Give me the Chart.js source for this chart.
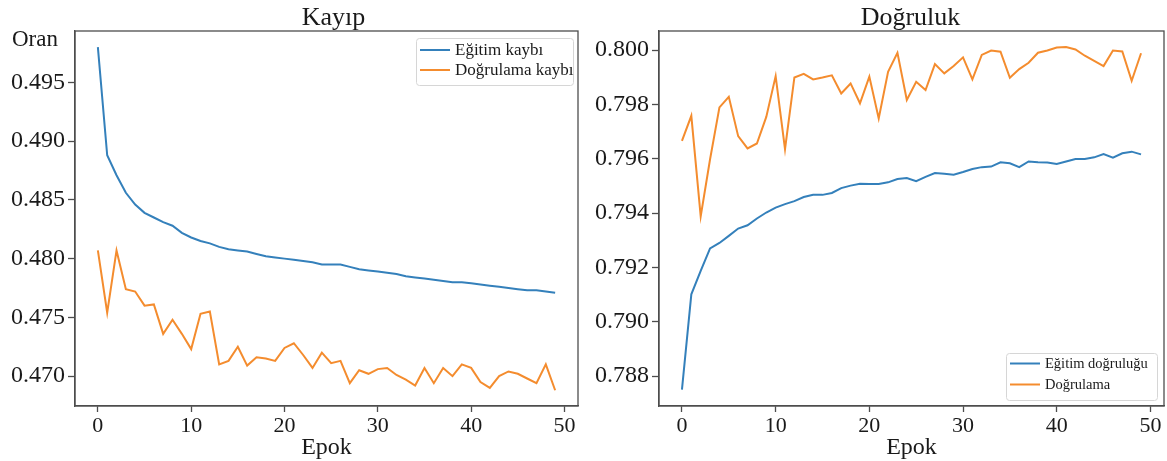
<!DOCTYPE html>
<html lang="tr">
<head>
<meta charset="utf-8">
<title>Kayıp ve Doğruluk</title>
<script src="https://cdn.jsdelivr.net/npm/chart.js@4.4.1/dist/chart.umd.min.js"></script>
<style>
    html, body { margin: 0; padding: 0; background: #ffffff; }
    #sol { position: absolute; left: 0; top: 0; width: 580px; height: 461px; }
    #sag { position: absolute; left: 580px; top: 0; width: 587px; height: 461px; }
</style>
</head>
<body>
<div id="sol"><canvas id="chartKayip" width="580" height="461"></canvas></div>
<div id="sag"><canvas id="chartDogruluk" width="587" height="461"></canvas></div>

<script>
// ===== VERİLER =====
const epoklar = [0, 1, 2, 3, 4, 5, 6, 7, 8, 9, 10, 11, 12, 13, 14, 15, 16, 17, 18, 19,
    20, 21, 22, 23, 24, 25, 26, 27, 28, 29, 30, 31, 32, 33, 34, 35, 36, 37, 38, 39,
    40, 41, 42, 43, 44, 45, 46, 47, 48, 49];

const egitimKaybi = [0.4980, 0.4888, 0.4871, 0.4856, 0.4846, 0.4839, 0.4835, 0.4831, 0.4828, 0.4822,
    0.4818, 0.4815, 0.4813, 0.4810, 0.4808, 0.4807, 0.4806, 0.4804, 0.4802, 0.4801,
    0.4800, 0.4799, 0.4798, 0.4797, 0.4795, 0.4795, 0.4795, 0.4793, 0.4791, 0.4790,
    0.4789, 0.4788, 0.4787, 0.4785, 0.4784, 0.4783, 0.4782, 0.4781, 0.4780, 0.4780,
    0.4779, 0.4778, 0.4777, 0.4776, 0.4775, 0.4774, 0.4773, 0.4773, 0.4772, 0.4771];

const dogrulamaKaybi = [0.4807, 0.4754, 0.4807, 0.4774, 0.4772, 0.4760, 0.4761, 0.4736, 0.4748, 0.4736,
    0.4723, 0.4753, 0.4755, 0.4710, 0.4713, 0.4725, 0.4709, 0.4716, 0.4715, 0.4713,
    0.4724, 0.4728, 0.4718, 0.4707, 0.4720, 0.4711, 0.4713, 0.4694, 0.4705, 0.4702,
    0.4706, 0.4707, 0.4701, 0.4697, 0.4692, 0.4707, 0.4694, 0.4707, 0.4700, 0.4710,
    0.4707, 0.4695, 0.4690, 0.4700, 0.4704, 0.4702, 0.4698, 0.4694, 0.4710, 0.4688];

const egitimDogrulugu = [0.78750, 0.79101, 0.79187, 0.79270, 0.79290, 0.79316, 0.79343, 0.79355, 0.79380, 0.79402,
    0.79420, 0.79433, 0.79444, 0.79459, 0.79467, 0.79467, 0.79474, 0.79492, 0.79501, 0.79508,
    0.79507, 0.79507, 0.79513, 0.79525, 0.79529, 0.79517, 0.79533, 0.79547, 0.79545, 0.79541,
    0.79551, 0.79562, 0.79569, 0.79571, 0.79587, 0.79583, 0.79569, 0.79590, 0.79587, 0.79586,
    0.79581, 0.79590, 0.79599, 0.79599, 0.79605, 0.79617, 0.79604, 0.79620, 0.79626, 0.79616];

const dogrulamaDogrulugu = [0.79666, 0.79758, 0.79388, 0.79598, 0.79789, 0.79828, 0.79683, 0.79638, 0.79656, 0.79754,
    0.79904, 0.79635, 0.79899, 0.79912, 0.79892, 0.79899, 0.79907, 0.79840, 0.79877, 0.79804,
    0.79902, 0.79748, 0.79920, 0.79990, 0.79816, 0.79883, 0.79853, 0.79948, 0.79914, 0.79941,
    0.79973, 0.79892, 0.79982, 0.79998, 0.79994, 0.79898, 0.79930, 0.79953, 0.79990, 0.79998,
    0.80009, 0.80011, 0.80002, 0.79979, 0.79960, 0.79941, 0.79998, 0.79995, 0.79887, 0.79988];

const xTikleri = [0, 10, 20, 30, 40, 50];
const kayipTikleri = [0.470, 0.475, 0.480, 0.485, 0.490, 0.495];
const dogrulukTikleri = [0.788, 0.790, 0.792, 0.794, 0.796, 0.798, 0.800];

const MAVI = '#3480bb';
const TURUNCU = '#f48c2e';
const YAZI_RENGI = '#1a1a1a';
const CERCEVE_RENGI = '#4d4d4d';
const FONT = "'Liberation Serif', 'DejaVu Serif', serif";

// Nokta listesi oluştur
function noktalar(degerler) {
    return epoklar.map(function(e, i) {
        return { x: e, y: degerler[i] };
    });
}

// Çerçeve, başlık, "Oran" ve grafik içi lejant
const panelEklentisi = {
    id: 'panel',
    afterDraw: function(chart, args, opts) {
        const ctx = chart.ctx;
        const a = chart.chartArea;
        ctx.save();

        // Dört kenarlı çerçeve
        ctx.strokeStyle = CERCEVE_RENGI;
        ctx.lineWidth = 1.3;
        ctx.strokeRect(a.left, a.top, a.right - a.left, a.bottom - a.top);

        // Başlık
        ctx.fillStyle = YAZI_RENGI;
        ctx.font = '26px ' + FONT;
        ctx.textAlign = 'center';
        ctx.textBaseline = 'alphabetic';
        ctx.fillText(opts.baslik, (a.left + a.right) / 2 + opts.baslikDx, a.top - 6);

        // Y ekseni etiketi (üstte)
        if (opts.yEtiket) {
            ctx.font = '23px ' + FONT;
            ctx.textAlign = 'left';
            ctx.fillText(opts.yEtiket, 12, 46);
        }

        // Lejant kutusu
        const L = opts.lejant;
        ctx.fillStyle = 'rgba(255,255,255,0.85)';
        ctx.strokeStyle = '#d6d6d6';
        ctx.lineWidth = 1;
        ctx.beginPath();
        ctx.roundRect(L.x + 0.5, L.y + 0.5, L.w, L.h, 3);
        ctx.fill();
        ctx.stroke();

        ctx.font = L.boyut + 'px ' + FONT;
        ctx.textAlign = 'left';
        ctx.textBaseline = 'middle';
        chart.data.datasets.forEach(function(ds, i) {
            const y = L.y + L.ilkSatir + i * L.aralik;
            ctx.strokeStyle = ds.borderColor;
            ctx.lineWidth = 2;
            ctx.beginPath();
            ctx.moveTo(L.x + 4, y);
            ctx.lineTo(L.x + 34, y);
            ctx.stroke();
            ctx.fillStyle = YAZI_RENGI;
            ctx.fillText(ds.label, L.x + 39, y + 1);
        });

        ctx.restore();
    }
};

function grafikSecenekleri(yMin, yMax, yTikleri, yGenislik, sagBosluk, panel) {
    return {
        responsive: false,
        animation: false,
        layout: {
            padding: { top: 31, right: sagBosluk, bottom: 0, left: 0 }
        },
        scales: {
            x: {
                type: 'linear',
                min: -2.45,
                max: 51.45,
                afterBuildTicks: function(scale) {
                    scale.ticks = xTikleri.map(function(v) { return { value: v }; });
                },
                afterFit: function(scale) { scale.height = 55; },
                border: { display: true, color: CERCEVE_RENGI, width: 1.3 },
                grid: {
                    drawOnChartArea: false,
                    drawTicks: true,
                    tickLength: 6,
                    tickWidth: 1.3,
                    tickColor: CERCEVE_RENGI
                },
                ticks: {
                    color: YAZI_RENGI,
                    font: { family: FONT, size: 22 },
                    padding: 1,
                    maxRotation: 0,
                    callback: function(v) { return v; }
                },
                title: {
                    display: true,
                    text: 'Epok',
                    color: YAZI_RENGI,
                    font: { family: FONT, size: 24 },
                    padding: { top: 0, bottom: -1 }
                }
            },
            y: {
                type: 'linear',
                min: yMin,
                max: yMax,
                afterBuildTicks: function(scale) {
                    scale.ticks = yTikleri.map(function(v) { return { value: v }; });
                },
                afterFit: function(scale) { scale.width = yGenislik; },
                border: { display: true, color: CERCEVE_RENGI, width: 1.3 },
                grid: {
                    drawOnChartArea: false,
                    drawTicks: true,
                    tickLength: 7,
                    tickWidth: 1.3,
                    tickColor: CERCEVE_RENGI
                },
                ticks: {
                    color: YAZI_RENGI,
                    font: { family: FONT, size: 24 },
                    padding: 3,
                    callback: function(v) { return v.toFixed(3); }
                }
            }
        },
        plugins: {
            legend: { display: false },
            tooltip: { enabled: false },
            panel: panel
        }
    };
}

function cizgi(etiket, degerler, renk) {
    return {
        label: etiket,
        data: noktalar(degerler),
        borderColor: renk,
        backgroundColor: renk,
        borderWidth: 2,
        pointRadius: 0,
        tension: 0,
        fill: false
    };
}

document.addEventListener('DOMContentLoaded', function() {
    // Kayıp grafiği
    new Chart(document.getElementById('chartKayip'), {
        type: 'line',
        data: {
            datasets: [
                cizgi('Eğitim kaybı', egitimKaybi, MAVI),
                cizgi('Doğrulama kaybı', dogrulamaKaybi, TURUNCU)
            ]
        },
        options: grafikSecenekleri(0.46746, 0.49937, kayipTikleri, 75, 2, {
            baslik: 'Kayıp',
            baslikDx: 7,
            yEtiket: 'Oran',
            lejant: { x: 416, y: 38, w: 157, h: 47, boyut: 17, ilkSatir: 12, aralik: 20 }
        }),
        plugins: [panelEklentisi]
    });

    // Doğruluk grafiği
    new Chart(document.getElementById('chartDogruluk'), {
        type: 'line',
        data: {
            datasets: [
                cizgi('Eğitim doğruluğu', egitimDogrulugu, MAVI),
                cizgi('Doğrulama', dogrulamaDogrulugu, TURUNCU)
            ]
        },
        options: grafikSecenekleri(0.78690, 0.80070, dogrulukTikleri, 79, 3, {
            baslik: 'Doğruluk',
            baslikDx: -1,
            yEtiket: null,
            lejant: { x: 426, y: 353, w: 151, h: 47, boyut: 14.5, ilkSatir: 10.5, aralik: 21 }
        }),
        plugins: [panelEklentisi]
    });
});
</script>
</body>
</html>
